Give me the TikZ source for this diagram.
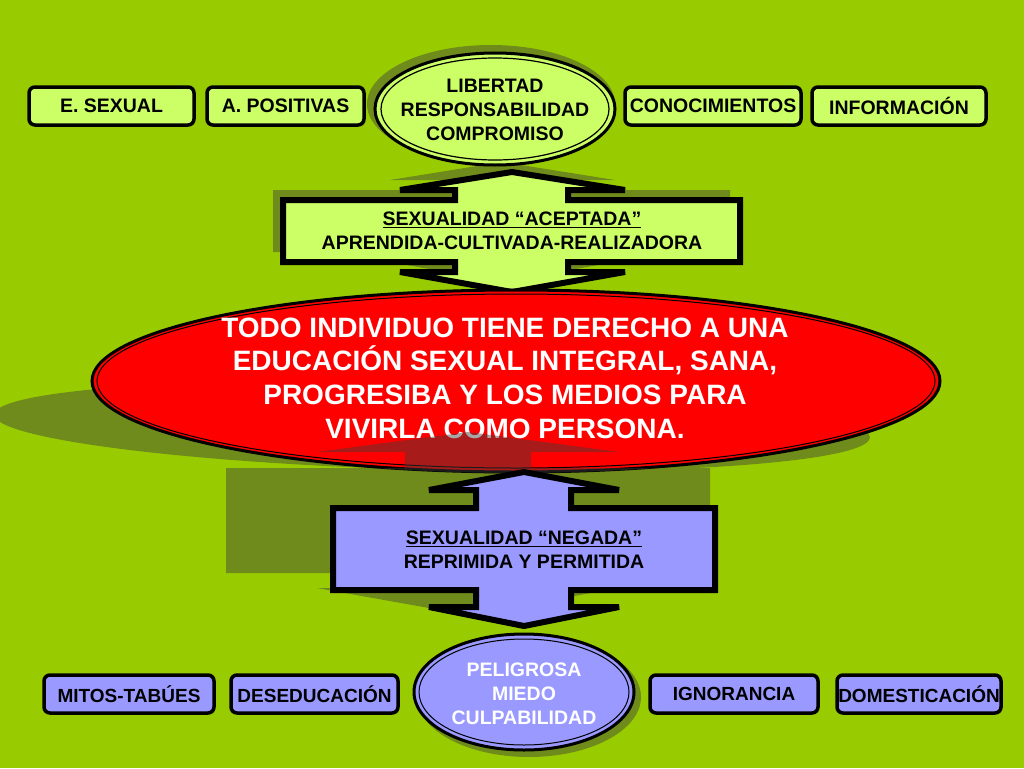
\documentclass[tikz,border=0pt]{standalone}
\usepackage{fontspec}
\setmainfont{Liberation Sans}
\usetikzlibrary{shapes,positioning}

\definecolor{bggreen}{RGB}{153,204,0}
\definecolor{paleg}{RGB}{204,255,102}
\definecolor{lilac}{RGB}{153,153,255}
\definecolor{shadowc}{RGB}{111,139,27}

\tikzset{
	labelbox/.style={draw, line width=3.5pt, rounded corners=6pt, fill=paleg, minimum height=38pt, inner sep=0pt, font=\bfseries\fontsize{19.5}{24}\selectfont},
	lowbox/.style={labelbox, fill=lilac, font=\bfseries\fontsize{19}{24}\selectfont},
	ringtext/.style={align=center, font=\bfseries\fontsize{19.5}{24}\selectfont},
	shade/.style={fill=shadowc},
	seeshade/.style={fill={rgb,255:red,60;green,60;blue,60}, opacity=0.45}
}

\begin{document}
\begin{tikzpicture}[x=1pt, y=-1pt]
				% Background
				\fill[bggreen] (0,0) rectangle (1024,768);
				\useasboundingbox (0,0) rectangle (1024,768);

				% Shadow of the big ellipse
				\fill[shade, rotate around={-1.5:(432,426)}] (432,426) ellipse [x radius=438, y radius=44];

				% Upper callout (aceptada)
				\fill[shade] (502,162) -- (615,180) -- (558,180) -- (558,190) -- (730,190) -- (730,252) -- (558,252) -- (558,262) -- (615,262) -- (502,282) -- (390,262) -- (445,262) -- (445,252) -- (273,252) -- (273,190) -- (445,190) -- (445,180) -- (390,180) -- cycle;
				\draw[line width=6pt, fill=paleg, miter limit=2] (512,172) -- (625,190) -- (568,190) -- (568,200) -- (740,200) -- (740,262) -- (568,262) -- (568,272) -- (625,272) -- (512,292) -- (400,272) -- (455,272) -- (455,262) -- (283,262) -- (283,200) -- (455,200) -- (455,190) -- (400,190) -- cycle;
				\node[ringtext] (acep) at (512,231) {\underline{SEXUALIDAD “ACEPTADA”}\\APRENDIDA-CULTIVADA-REALIZADORA};

				% Top ellipse
				\fill[shade] (491,104) ellipse [x radius=124, y radius=59];
				\draw[line width=3pt, fill=paleg] (495,109) ellipse [x radius=120, y radius=56];
				\draw[line width=1.2pt] (495,109) ellipse [x radius=114, y radius=51];
				\node[ringtext] (valores) at (495,110) {LIBERTAD\\RESPONSABILIDAD\\COMPROMISO};

				% Top boxes
				\node[labelbox, minimum width=165pt] (esex) at (111.5,106) {E. SEXUAL};
				\node[labelbox, minimum width=157pt] (apos) at (285.5,106) {A. POSITIVAS};
				\node[labelbox, minimum width=176pt] (cono) at (713,106) {CONOCIMIENTOS};
				\node[labelbox, minimum width=174pt] (info) at (899,106) {INFORMACIÓN};

				% Lower callout shadow (behind)
				\fill[shade] (468,432) -- (619,452) -- (531,452) -- (531,468) -- (710,468) -- (710,573) -- (531,573) -- (531,588) -- (619,588) -- (468,615) -- (317,588) -- (405,588) -- (405,573) -- (226,573) -- (226,468) -- (405,468) -- (405,452) -- (317,452) -- cycle;

				% Red ellipse
				\draw[line width=3pt, fill=red] (516,381) ellipse [x radius=424, y radius=91];
				\draw[line width=1pt] (516,381) ellipse [x radius=419, y radius=87];
				\node[align=center, text=white, font=\bfseries\fontsize{28}{33.7}\selectfont] (derecho) at (505,378) {TODO INDIVIDUO TIENE DERECHO A UNA\\EDUCACIÓN SEXUAL INTEGRAL, SANA,\\PROGRESIBA Y LOS MEDIOS PARA\\VIVIRLA COMO PERSONA.};

				% Lower callout shadow (over the red ellipse)
				\begin{scope}
					\clip (516,381) ellipse [x radius=425, y radius=92];
					\fill[seeshade] (468,432) -- (619,452) -- (531,452) -- (531,468) -- (710,468) -- (710,573) -- (405,573) -- (226,573) -- (226,468) -- (405,468) -- (405,452) -- (317,452) -- cycle;
				\end{scope}

				% Lower callout (negada)
				\draw[line width=6pt, fill=lilac, miter limit=2] (524,472) -- (619,490) -- (571,490) -- (571,508) -- (715,508) -- (715,590) -- (571,590) -- (571,607) -- (619,607) -- (524,626) -- (429,607) -- (476,607) -- (476,590) -- (333,590) -- (333,508) -- (476,508) -- (476,490) -- (429,490) -- cycle;
				\node[ringtext] (neg) at (524,550) {\underline{SEXUALIDAD “NEGADA”}\\REPRIMIDA Y PERMITIDA};

				% Bottom ellipse
				\fill[shade] (529,697) ellipse [x radius=112, y radius=60];
				\draw[line width=3pt, fill=lilac] (524,692) ellipse [x radius=110, y radius=58];
				\draw[line width=1pt] (524,692) ellipse [x radius=105, y radius=53];
				\node[ringtext, text=white] (miedo) at (524,694) {PELIGROSA\\MIEDO\\CULPABILIDAD};

				% Bottom boxes
				\node[lowbox, minimum width=170pt] (mitos) at (129,694) {MITOS-TABÚES};
				\node[lowbox, minimum width=167pt] (desed) at (314.5,694) {DESEDUCACIÓN};
				\node[lowbox, minimum width=168pt] (ignor) at (734,694) {IGNORANCIA};
				\node[lowbox, minimum width=164pt] (domes) at (919,694) {DOMESTICACIÓN};
\end{tikzpicture}
\end{document}
